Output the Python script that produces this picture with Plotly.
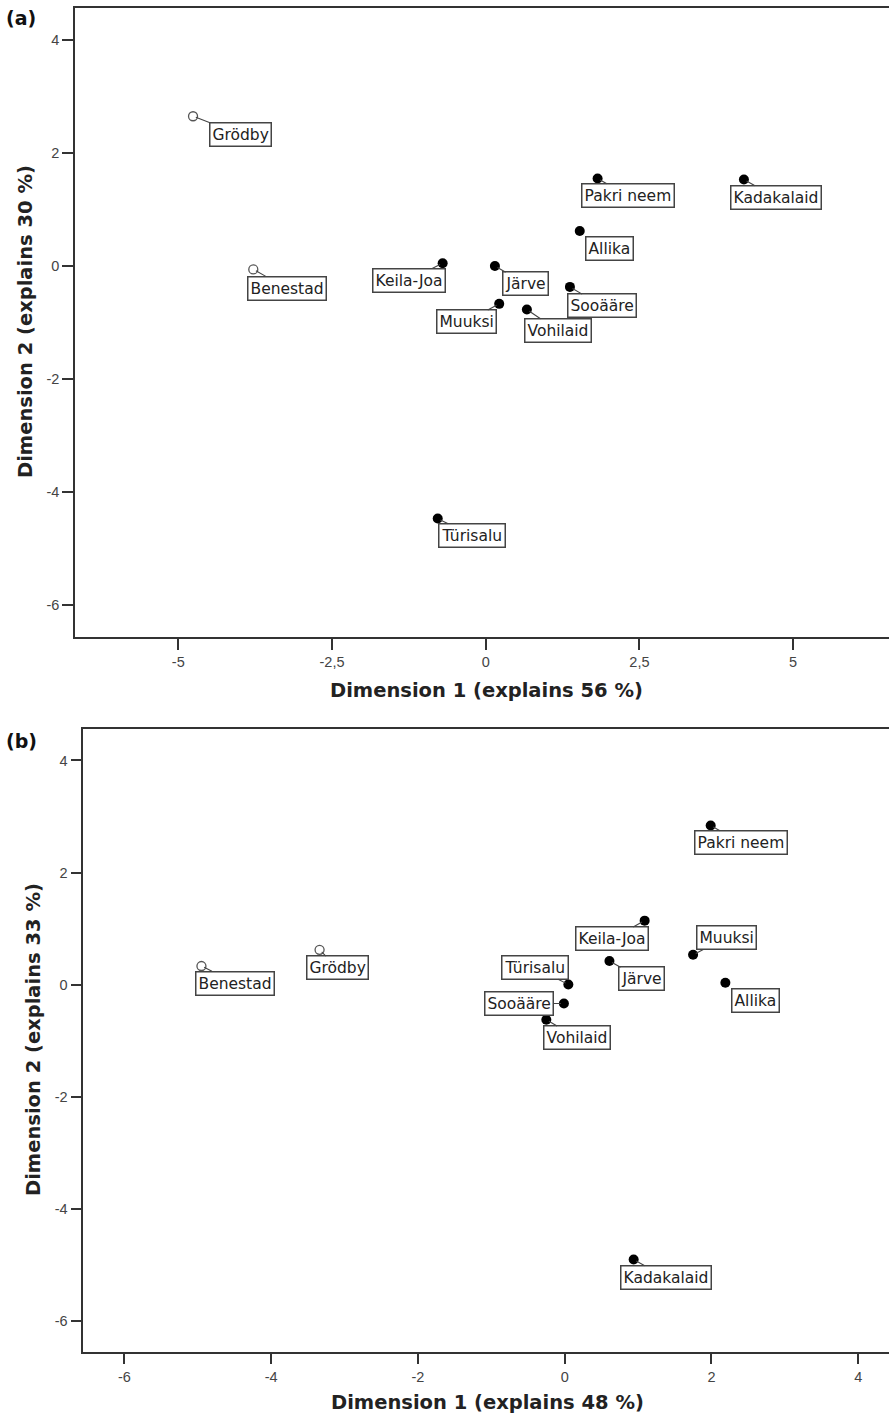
import plotly.graph_objects as go

# ---------------- data ----------------
# Panel (a)
sites_a = ["Grödby", "Benestad", "Keila-Joa", "Järve", "Muuksi", "Vohilaid",
           "Sooääre", "Allika", "Pakri neem", "Kadakalaid", "Türisalu"]
dim1_a = [-4.76, -3.78, -0.70, 0.15, 0.22, 0.67, 1.37, 1.53, 1.82, 4.20, -0.78]
dim2_a = [2.65, -0.06, 0.05, 0.00, -0.67, -0.77, -0.37, 0.62, 1.55, 1.53, -4.47]
open_a = [True, True, False, False, False, False, False, False, False, False, False]

# Panel (b)
sites_b = ["Benestad", "Grödby", "Pakri neem", "Keila-Joa", "Muuksi", "Järve",
           "Allika", "Türisalu", "Sooääre", "Vohilaid", "Kadakalaid"]
dim1_b = [-4.95, -3.34, 1.99, 1.09, 1.75, 0.61, 2.19, 0.05, -0.01, -0.25, 0.94]
dim2_b = [0.33, 0.62, 2.84, 1.14, 0.53, 0.42, 0.03, 0.00, -0.34, -0.63, -4.91]
open_b = [True, True, False, False, False, False, False, False, False, False, False]

xticks_a = [-5, -2.5, 0, 2.5, 5]
xticktext_a = ["-5", "-2,5", "0", "2,5", "5"]
xticks_b = [-6, -4, -2, 0, 2, 4]
xticktext_b = ["-6", "-4", "-2", "0", "2", "4"]
yticks = [4, 2, 0, -2, -4, -6]
yticktext = ["4", "2", "0", "-2", "-4", "-6"]

xtitle_a = "Dimension 1 (explains 56 %)"
ytitle_a = "Dimension 2 (explains 30 %)"
xtitle_b = "Dimension 1 (explains 48 %)"
ytitle_b = "Dimension 2 (explains 33 %)"

# ---------------- label placement (pixel offsets, style only) ----------------
off_a = {"Grödby": (47, 18), "Benestad": (34, 19), "Keila-Joa": (-34, 17),
         "Järve": (31, 18), "Muuksi": (-33, 18), "Vohilaid": (31, 21),
         "Sooääre": (32, 19), "Allika": (30, 18), "Pakri neem": (30, 17),
         "Kadakalaid": (32, 18), "Türisalu": (34, 17)}
off_b = {"Benestad": (34, 17), "Grödby": (18, 18), "Pakri neem": (30, 17),
         "Keila-Joa": (-33, 18), "Muuksi": (33, -17), "Järve": (32, 18),
         "Allika": (30, 18), "Türisalu": (-33, -17), "Sooääre": (-45, 0),
         "Vohilaid": (31, 18), "Kadakalaid": (32, 18)}

W, H = 889, 1416
LABEL_FONT = dict(family="DejaVu Sans, sans-serif", size=15.5, color="#222")
TICK_FONT = dict(family="Liberation Sans, Arial, sans-serif", size=14.5, color="#444")
TITLE_FONT = dict(family="DejaVu Sans, sans-serif", size=19.5, color="#222")
AXCOL = "#333333"

fig = go.Figure()

def add_panel(names, xs, ys, opens, xref, yref, offs):
    fx = [x for x, o in zip(xs, opens) if not o]
    fy = [y for y, o in zip(ys, opens) if not o]
    ox = [x for x, o in zip(xs, opens) if o]
    oy = [y for y, o in zip(ys, opens) if o]
    fig.add_trace(go.Scatter(x=fx, y=fy, mode="markers", xaxis=xref, yaxis=yref,
                             marker=dict(size=10, color="black"), showlegend=False,
                             cliponaxis=False))
    fig.add_trace(go.Scatter(x=ox, y=oy, mode="markers", xaxis=xref, yaxis=yref,
                             marker=dict(size=9, color="white",
                                         line=dict(color="#555", width=1.3)),
                             showlegend=False, cliponaxis=False))
    axr = xref.replace("axis", "")
    ayr = yref.replace("axis", "")
    for n, x, y in zip(names, xs, ys):
        dx, dy = offs[n]
        fig.add_annotation(x=x, y=y, xref=axr, yref=ayr, text=n, showarrow=True,
                           ax=dx, ay=dy, arrowhead=0, arrowwidth=1.1, arrowcolor="#444",
                           standoff=3, font=LABEL_FONT, bgcolor="white",
                           bordercolor="#444", borderwidth=1.5, borderpad=2)

add_panel(sites_a, dim1_a, dim2_a, open_a, "x", "y", off_a)
add_panel(sites_b, dim1_b, dim2_b, open_b, "x2", "y2", off_b)

common_x = dict(showline=True, linecolor=AXCOL, linewidth=1.5, mirror=True,
                ticks="outside", ticklen=11, tickwidth=1.5, tickcolor=AXCOL,
                showgrid=False, zeroline=False, tickfont=TICK_FONT, automargin=False)
common_y = dict(showline=True, linecolor=AXCOL, linewidth=1.5, mirror=False,
                ticks="outside", ticklen=11, tickwidth=1.5, tickcolor=AXCOL,
                showgrid=False, zeroline=False, tickfont=TICK_FONT, automargin=False,
                ticklabelstandoff=0)

def py(p):
    return 1 - p / H

fig.update_layout(
    template="none",
    width=W, height=H, margin=dict(l=0, r=0, t=0, b=0, autoexpand=False),
    paper_bgcolor="white", plot_bgcolor="white", showlegend=False,
    xaxis=dict(**common_x, domain=[75 / W, 1.0], range=[-6.68, 6.56], anchor="y",
               tickvals=xticks_a, ticktext=xticktext_a),
    yaxis=dict(**common_y, domain=[py(637), py(8)], range=[-6.566, 4.566],
               anchor="x", tickvals=yticks, ticktext=yticktext),
    xaxis2=dict(**common_x, domain=[83.3 / W, 1.0], range=[-6.56, 4.42], anchor="y2",
                tickvals=xticks_b, ticktext=xticktext_b),
    yaxis2=dict(**common_y, domain=[py(1351.7), py(729.3)], range=[-6.557, 4.557],
                anchor="x2", tickvals=yticks, ticktext=yticktext),
)

def paper_text(x, y, text, font, angle=0):
    fig.add_annotation(x=x / W, y=py(y), xref="paper", yref="paper", text=text,
                       showarrow=False, font=font, textangle=angle,
                       xanchor="center", yanchor="middle")

# axis titles and panel letters
paper_text(486, 690, "<b>" + xtitle_a + "</b>", TITLE_FONT)
paper_text(25, 322, "<b>" + ytitle_a + "</b>", TITLE_FONT, -90)
paper_text(487, 1402, "<b>" + xtitle_b + "</b>", TITLE_FONT)
paper_text(33, 1040, "<b>" + ytitle_b + "</b>", TITLE_FONT, -90)
LETTER_FONT = dict(family="DejaVu Sans, sans-serif", size=19, color="#111")
paper_text(21, 18, "<b>(a)</b>", LETTER_FONT)
paper_text(21, 741, "<b>(b)</b>", LETTER_FONT)

fig.write_html("out.html", config={"displayModeBar": False},
               post_script="document.body.style.margin='0';")
